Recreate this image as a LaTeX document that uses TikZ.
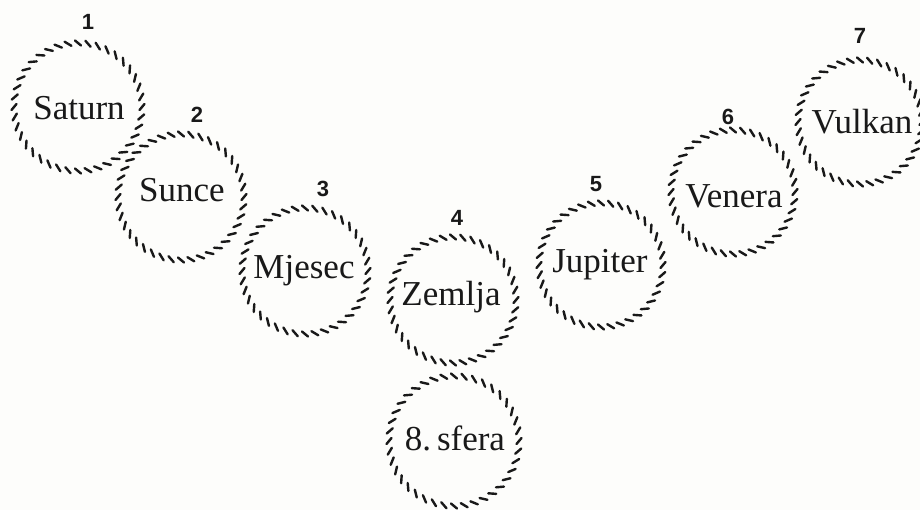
\documentclass[tikz,border=0pt]{standalone}
\usepackage{fontspec}
\setmainfont{Liberation Serif}
\newfontfamily\numfont{Liberation Sans}
\usetikzlibrary{calc}
\definecolor{bgcol}{RGB}{253,253,251}
\definecolor{inkcol}{RGB}{25,25,25}
\tikzset{
  sphere/.style={circle, inner sep=0pt, font=\fontsize{35}{38}\selectfont, text=inkcol},
  numlabel/.style={font=\numfont\bfseries\fontsize{22}{24}\selectfont, text=inkcol},
  hatchtick/.style={draw=inkcol, line width=2.4pt, line cap=round}
}
\begin{document}
\begin{tikzpicture}[x=1pt,y=-1pt]
\fill[bgcol] (0,0) rectangle (920,510);
\useasboundingbox (0,0) rectangle (920,510);
% spheres
\node[sphere] (saturn) at (79,108) {Saturn};
\node[sphere] (sunce) at (182,190) {Sunce};
\node[sphere] (mjesec) at (304,271) {Mjesec};
\node[sphere] (zemlja) at (451,297) {Zemlja};
\node[sphere] (jupiter) at (600,265) {Jupiter};
\node[sphere] (venera) at (734,196) {Venera};
\node[sphere] (vulkan) at (862,122) {Vulkan};
\node[sphere] (sfera) at (455,438) {8.\,sfera};
% numbers
\node[numlabel] (n1) at (88,22) {1};
\node[numlabel] (n2) at (197,115) {2};
\node[numlabel] (n3) at (323,189) {3};
\node[numlabel] (n4) at (457,218) {4};
\node[numlabel] (n5) at (596,184) {5};
\node[numlabel] (n6) at (728,117) {6};
\node[numlabel] (n7) at (860,36) {7};
% hatched circle outlines (centres of the drawn rings)
\coordinate (c1) at (78,107);
\coordinate (c2) at (181,197);
\coordinate (c3) at (305,271);
\coordinate (c4) at (453,300);
\coordinate (c5) at (601,265);
\coordinate (c6) at (733,192);
\coordinate (c7) at (860,122);
\coordinate (c8) at (454,441);
\foreach \n/\r in {c1/64, c2/63, c3/63, c4/63, c5/62, c6/62, c7/62, c8/65}{
  \foreach \a in {0,9,...,351}{
    \draw[hatchtick] ($(\n)+(\a:\r)+(\a+130:4)$) -- ($(\n)+(\a:\r)+(\a+310:4)$);
  }
}
\end{tikzpicture}
\end{document}
